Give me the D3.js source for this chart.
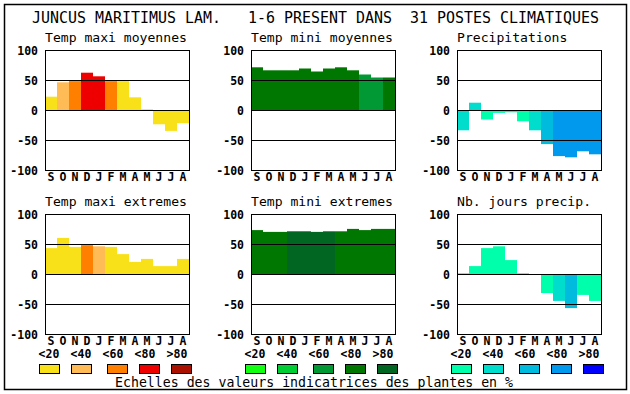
<!DOCTYPE html>
<html>
<head>
<meta charset="utf-8">
<script src="https://cdn.jsdelivr.net/npm/d3@7/dist/d3.min.js"></script>
<style>
  html, body { margin: 0; padding: 0; background: #fff; }
  svg { display: block; }
</style>
</head>
<body>
<script>
// ---------- data ----------
const months = ["S","O","N","D","J","F","M","A","M","J","J","A"];
const yTicks = [100, 50, 0, -50, -100];
const legendLabels = ["<20", "<40", "<60", "<80", ">80"];

const redPalette   = ["#F9E11A", "#FFBB55", "#FF8000", "#EE0000", "#AA1100"];
const greenPalette = ["#11FF11", "#00CC33", "#009933", "#007700", "#006622"];
const bluePalette  = ["#00FFAA", "#00DDCC", "#00BBDD", "#0099EE", "#0000FF"];

const tempMaxiMoy    = [23, 47, 49, 63, 57, 49, 49, 22, 2, -23, -34, -21];
const tempMaxiMoyCls = [0, 1, 2, 3, 3, 2, 0, 0, 0, 0, 0, 0];
const tempMiniMoy    = [72, 67, 67, 67, 70, 65, 70, 72, 67, 60, 55, 55];
const tempMiniMoyCls = [3, 3, 3, 3, 3, 3, 3, 3, 3, 2, 2, 3];
const precip         = [-33, 13, -15, -4, -3, -18, -33, -56, -76, -78, -68, -73];
const precipCls      = [1, 1, 0, 0, 0, 0, 1, 2, 3, 3, 3, 3];
const tempMaxiExt    = [44, 61, 46, 49, 47, 46, 34, 21, 26, 14, 14, 26];
const tempMaxiExtCls = [0, 0, 0, 2, 1, 0, 0, 0, 0, 0, 0, 0];
const tempMiniExt    = [74, 71, 71, 72, 72, 71, 72, 72, 76, 74, 76, 76];
const tempMiniExtCls = [3, 3, 3, 4, 4, 4, 4, 3, 3, 3, 3, 3];
const nbJours        = [2, 14, 44, 47, 24, 2, 0, -31, -44, -56, -34, -44];
const nbJoursCls     = [0, 0, 0, 0, 0, 0, 0, 0, 1, 2, 0, 0];

const panels = [
  {title: "Temp maxi moyennes", values: tempMaxiMoy, cls: tempMaxiMoyCls, palette: redPalette,   col: 0, row: 0},
  {title: "Temp mini moyennes", values: tempMiniMoy, cls: tempMiniMoyCls, palette: greenPalette, col: 1, row: 0},
  {title: "Precipitations",     values: precip,      cls: precipCls,      palette: bluePalette,  col: 2, row: 0},
  {title: "Temp maxi extremes", values: tempMaxiExt, cls: tempMaxiExtCls, palette: redPalette,   col: 0, row: 1},
  {title: "Temp mini extremes", values: tempMiniExt, cls: tempMiniExtCls, palette: greenPalette, col: 1, row: 1},
  {title: "Nb. jours precip.",  values: nbJours,     cls: nbJoursCls,     palette: bluePalette,  col: 2, row: 1}
];

// ---------- layout ----------
const W = 630, H = 394;
const colLeft = [45, 251, 457];
const rowTop = [50, 214];
const pw = 144, ph = 120;
const mono = "'DejaVu Sans Mono', 'Liberation Mono', monospace";

const svg = d3.select("body").append("svg")
  .attr("width", W).attr("height", H);

svg.append("rect").attr("width", W).attr("height", H).attr("fill", "#fff");
svg.append("rect")
  .attr("x", 4.5).attr("y", 4.5).attr("width", 622).attr("height", 385)
  .attr("fill", "none").attr("stroke", "#000").attr("stroke-width", 1.5);

svg.append("text")
  .attr("x", 32).attr("y", 18).attr("dy", "0.35em")
  .attr("xml:space", "preserve")
  .style("white-space", "pre")
  .attr("font-family", mono).attr("font-size", 15)
  .attr("textLength", 567).attr("lengthAdjust", "spacingAndGlyphs")
  .text("JUNCUS MARITIMUS LAM.   1-6 PRESENT DANS  31 POSTES CLIMATIQUES");

panels.forEach(p => {
  const x0 = colLeft[p.col], y0 = rowTop[p.row];
  const g = svg.append("g");
  const x = d3.scaleBand().domain(d3.range(months.length)).range([x0, x0 + pw]).padding(0);
  const y = d3.scaleLinear().domain([-100, 100]).range([y0 + ph + 0.5, y0 + 0.5]);

  g.append("text")
    .attr("x", x0).attr("y", y0 - 12.3).attr("dy", "0.35em")
    .attr("font-family", mono).attr("font-size", 13.1)
    .text(p.title);

  g.selectAll("rect.bar").data(p.values).enter().append("rect")
    .attr("class", "bar")
    .attr("x", (d, i) => x(i))
    .attr("width", x.bandwidth())
    .attr("y", d => Math.min(y(d), y(0)))
    .attr("height", d => Math.abs(y(d) - y(0)))
    .attr("fill", (d, i) => p.palette[p.cls[i]]);

  g.selectAll("line.grid").data([50, 0, -50]).enter().append("line")
    .attr("class", "grid")
    .attr("x1", x0).attr("x2", x0 + pw)
    .attr("y1", d => y(d)).attr("y2", d => y(d))
    .attr("stroke", "#000").attr("stroke-width", 1);

  g.append("rect")
    .attr("x", x0 + 0.5).attr("y", y0 + 0.5).attr("width", pw).attr("height", ph)
    .attr("fill", "none").attr("stroke", "#000").attr("stroke-width", 1);

  const ya = g.append("g").attr("transform", `translate(${x0},0)`)
    .call(d3.axisLeft(y).tickValues(yTicks).tickSize(0).tickPadding(7).tickFormat(d => String(d)));
  ya.select(".domain").remove();
  ya.selectAll("text").attr("font-family", mono).attr("font-size", 11.5)
    .attr("font-weight", "bold").attr("fill", "#000");

  const xa = g.append("g").attr("transform", `translate(0,${y0 + ph})`)
    .call(d3.axisBottom(x).tickSize(0).tickPadding(3).tickFormat(i => months[i]));
  xa.select(".domain").remove();
  xa.selectAll("text").attr("font-family", mono).attr("font-size", 11.5)
    .attr("font-weight", "bold").attr("fill", "#000");
});

// ---------- legend ----------
const labelX = [39, 71, 103, 135, 167];
const swatchX = [39, 71, 107, 139, 171];
[redPalette, greenPalette, bluePalette].forEach((pal, k) => {
  const off = 206 * k;
  svg.append("g").selectAll("text").data(legendLabels).enter().append("text")
    .attr("x", (d, i) => labelX[i] + off + 10)
    .attr("y", 354).attr("dy", "0.35em")
    .attr("text-anchor", "middle")
    .attr("font-family", mono).attr("font-size", 11.5).attr("font-weight", "bold")
    .text(d => d);
  svg.append("g").selectAll("rect").data(pal).enter().append("rect")
    .attr("x", (d, i) => swatchX[i] + off + 0.5)
    .attr("y", 364.5).attr("width", 20).attr("height", 9)
    .attr("fill", d => d).attr("stroke", "#000").attr("stroke-width", 1);
});

svg.append("text")
  .attr("x", 115).attr("y", 382.3).attr("dy", "0.35em")
  .attr("xml:space", "preserve").style("white-space", "pre")
  .attr("font-family", mono).attr("font-size", 13.2)
  .attr("textLength", 398).attr("lengthAdjust", "spacingAndGlyphs")
  .text("Echelles des valeurs indicatrices des plantes en %");
</script>
</body>
</html>
